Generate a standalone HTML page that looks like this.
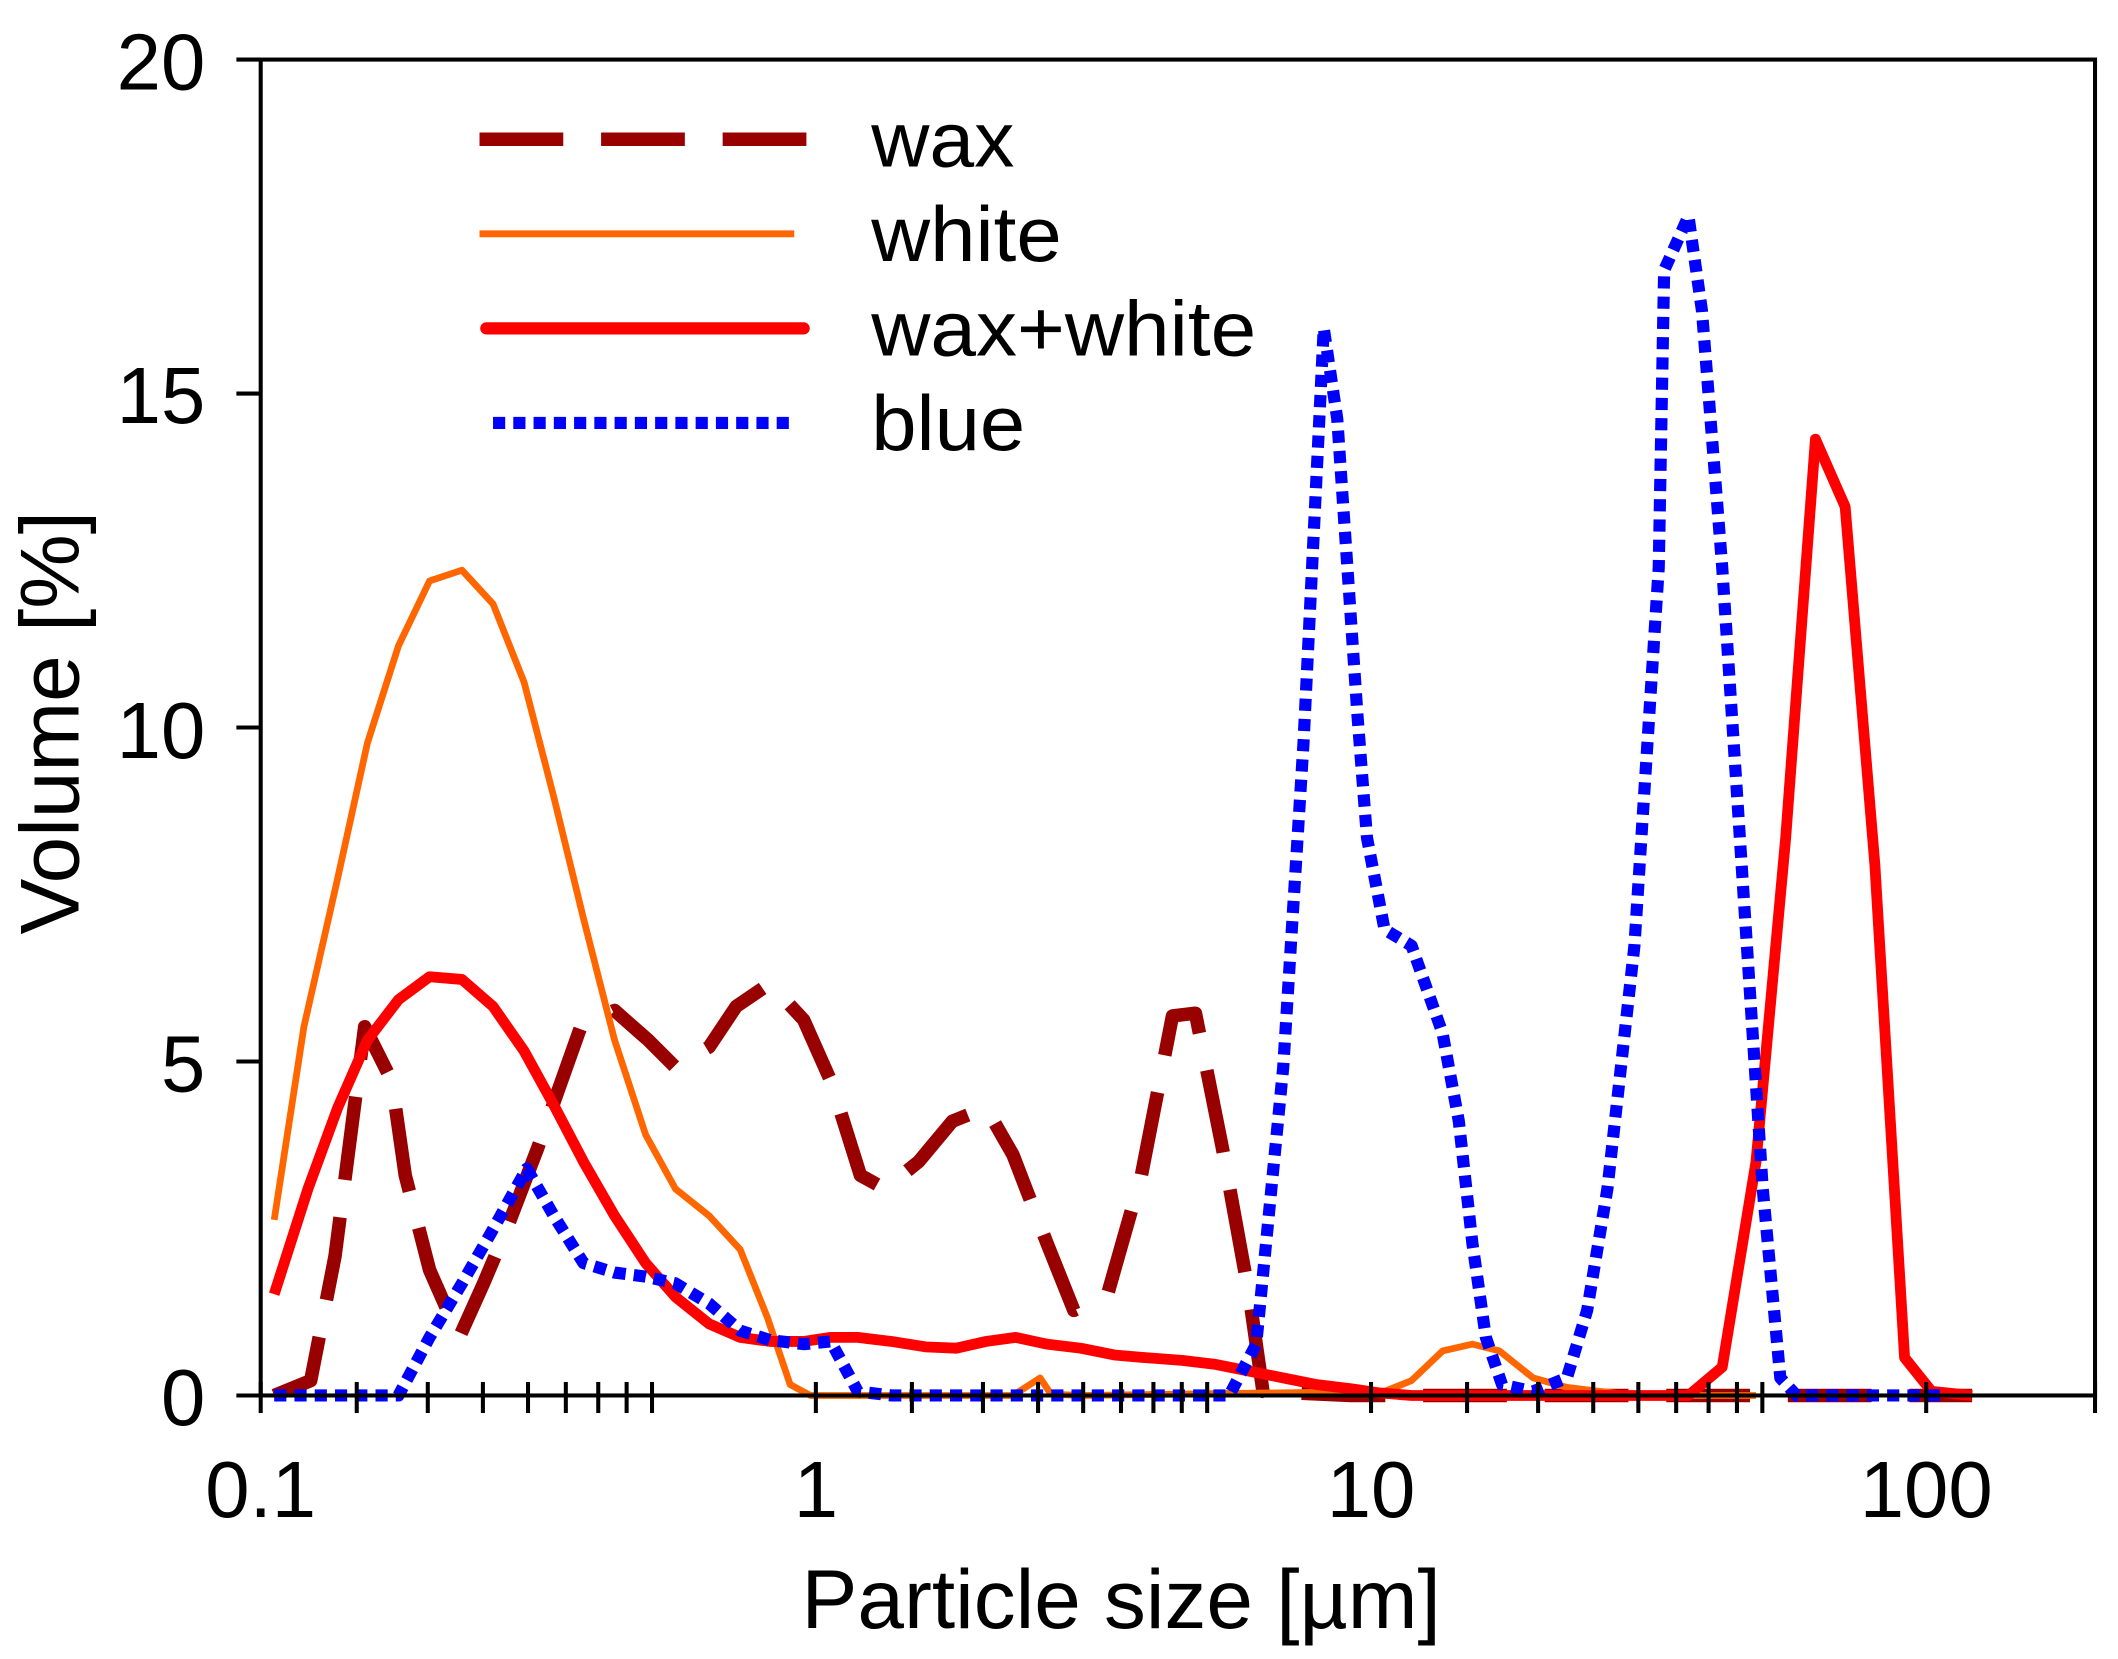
<!DOCTYPE html>
<html><head><meta charset="utf-8"><style>
html,body{margin:0;padding:0;background:#fff;}
svg{display:block;}
text{font-family:"Liberation Sans",Arial,sans-serif;fill:#000;}
</style></head><body>
<svg width="2118" height="1659" viewBox="0 0 1568 1228" xmlns="http://www.w3.org/2000/svg">
<rect x="0" y="0" width="1568" height="1228" fill="#fff"/>
<rect x="193" y="44" width="1358" height="989" fill="none" stroke="#000" stroke-width="3"/>
<g stroke="#000" stroke-width="3">
<line x1="175" y1="44" x2="193" y2="44"/>
<line x1="175" y1="291.25" x2="193" y2="291.25"/>
<line x1="175" y1="538.5" x2="193" y2="538.5"/>
<line x1="175" y1="785.75" x2="193" y2="785.75"/>
<line x1="175" y1="1033" x2="193" y2="1033"/>
</g>
<g font-size="59" text-anchor="end">
<text x="152" y="66">20</text>
<text x="152" y="313">15</text>
<text x="152" y="561">10</text>
<text x="152" y="808">5</text>
<text x="152" y="1055">0</text>
</g>
<g font-size="59" text-anchor="middle">
<text x="193" y="1123">0.1</text>
<text x="604" y="1123">1</text>
<text x="1015" y="1123">10</text>
<text x="1426" y="1123">100</text>
</g>
<text x="830" y="1205" font-size="62" text-anchor="middle">Particle size [µm]</text>
<text transform="translate(58,535) rotate(-90)" font-size="62" text-anchor="middle">Volume [%]</text>
<line x1="355" y1="103" x2="615" y2="103" stroke="#990000" stroke-width="10" stroke-dasharray="62,28"/>
<line x1="355" y1="173" x2="588" y2="173" stroke="#FF6600" stroke-width="5"/>
<line x1="360" y1="243" x2="595" y2="243" stroke="#FF0000" stroke-width="9" stroke-linecap="round"/>
<line x1="365" y1="313" x2="590" y2="313" stroke="#0000FF" stroke-width="9" stroke-dasharray="9,6"/>
<g font-size="58">
<text x="645" y="123" textLength="106" lengthAdjust="spacingAndGlyphs">wax</text>
<text x="645" y="193" textLength="141" lengthAdjust="spacingAndGlyphs">white</text>
<text x="645" y="263" textLength="285" lengthAdjust="spacingAndGlyphs">wax+white</text>
<text x="645" y="333" textLength="114" lengthAdjust="spacingAndGlyphs">blue</text>
</g>
<polyline fill="none" stroke="#990000" stroke-width="10" stroke-linejoin="round" stroke-dasharray="62,28"
points="203,1033 230,1022 248,930 270,760 290,800 300,870 318,940 340,990 358,950 375,910 398,850 430,760 455,748 480,770 500,790 525,775 545,745 570,728 595,755 615,800 637,870 655,880 680,860 705,830 730,820 750,855 775,920 795,970 820,958 845,870 868,752 885,750 905,850 925,960 935,1030 1000,1033 1460,1033"/>
<polyline fill="none" stroke="#FF6600" stroke-width="5" stroke-linejoin="round"
points="203,903 225,760 250,650 272,550 295,478 318,430 342,422 365,447 388,505 410,590 432,680 455,770 478,840 500,880 525,900 548,925 568,975 585,1025 600,1033 750,1033 770,1020 778,1032 800,1033 1025,1030 1045,1022 1068,1000 1090,995 1110,1000 1135,1020 1160,1027 1185,1030 1210,1033 1300,1033"/>
<polyline fill="none" stroke="#FF0000" stroke-width="8" stroke-linejoin="round"
points="203,958 228,880 250,820 272,770 295,740 318,723 342,725 365,745 388,778 410,818 432,860 455,900 478,935 500,960 525,980 548,990 570,993 595,993 615,990 635,990 660,993 685,997 708,998 730,993 752,990 775,995 800,998 825,1003 848,1005 875,1007 900,1010 925,1015 950,1020 975,1025 1000,1028 1020,1031 1045,1033 1250,1033 1275,1012 1300,860 1322,620 1344,325 1366,375 1388,640 1410,1005 1430,1030 1460,1033"/>
<polyline fill="none" stroke="#0000FF" stroke-width="9" stroke-linejoin="round" stroke-dasharray="9,6"
points="203,1033 295,1033 318,990 342,950 365,910 390,865 410,900 432,935 455,942 478,945 500,950 525,965 548,985 570,992 595,995 615,993 635,1030 660,1033 910,1033 930,995 950,790 965,550 980,243 990,310 1005,530 1012,620 1025,688 1045,700 1068,765 1080,830 1090,920 1100,990 1112,1025 1135,1030 1160,1020 1175,970 1190,880 1210,700 1228,420 1232,200 1250,160 1260,230 1275,420 1290,650 1305,880 1318,1020 1330,1033 1440,1033"/>
<g stroke="#000" stroke-width="3">
<line x1="193" y1="1033" x2="1551" y2="1033"/>
<line x1="264.1" y1="1023" x2="264.1" y2="1046"/><line x1="316.7" y1="1023" x2="316.7" y2="1046"/><line x1="357.5" y1="1023" x2="357.5" y2="1046"/><line x1="390.9" y1="1023" x2="390.9" y2="1046"/><line x1="418.9" y1="1023" x2="418.9" y2="1046"/><line x1="442.9" y1="1023" x2="442.9" y2="1046"/><line x1="463.9" y1="1023" x2="463.9" y2="1046"/><line x1="482.7" y1="1023" x2="482.7" y2="1046"/>
<line x1="604" y1="1023" x2="604" y2="1046"/>
<line x1="675.1" y1="1023" x2="675.1" y2="1046"/><line x1="727.7" y1="1023" x2="727.7" y2="1046"/><line x1="768.5" y1="1023" x2="768.5" y2="1046"/><line x1="801.9" y1="1023" x2="801.9" y2="1046"/><line x1="829.9" y1="1023" x2="829.9" y2="1046"/><line x1="853.9" y1="1023" x2="853.9" y2="1046"/><line x1="874.9" y1="1023" x2="874.9" y2="1046"/><line x1="893.7" y1="1023" x2="893.7" y2="1046"/>
<line x1="1015" y1="1023" x2="1015" y2="1046"/>
<line x1="1086.1" y1="1023" x2="1086.1" y2="1046"/><line x1="1138.7" y1="1023" x2="1138.7" y2="1046"/><line x1="1179.5" y1="1023" x2="1179.5" y2="1046"/><line x1="1212.9" y1="1023" x2="1212.9" y2="1046"/><line x1="1240.9" y1="1023" x2="1240.9" y2="1046"/><line x1="1264.9" y1="1023" x2="1264.9" y2="1046"/><line x1="1285.9" y1="1023" x2="1285.9" y2="1046"/><line x1="1304.7" y1="1023" x2="1304.7" y2="1046"/>
<line x1="1426" y1="1023" x2="1426" y2="1046"/>
<line x1="193" y1="1023" x2="193" y2="1046"/>
<line x1="1551" y1="1023" x2="1551" y2="1046"/>
</g>
</svg>
</body></html>
